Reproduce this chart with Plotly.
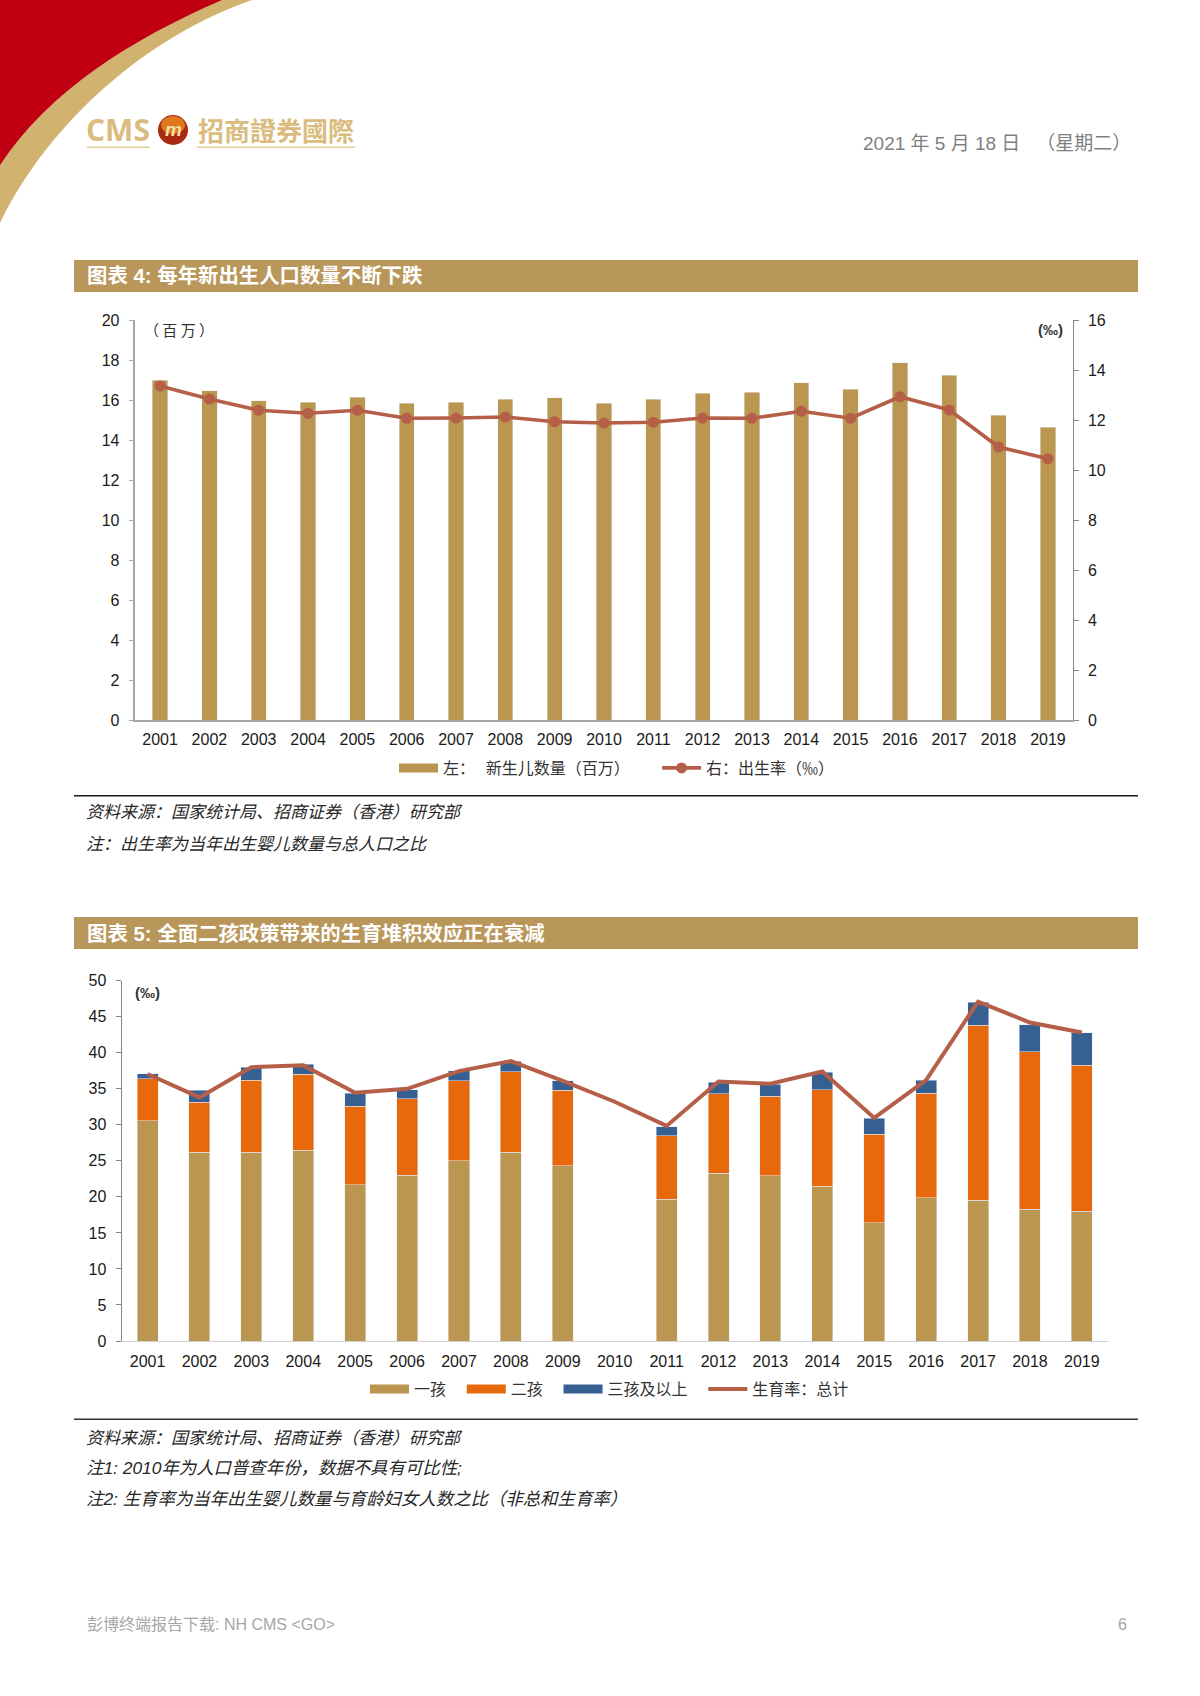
import plotly.graph_objects as go

# =========================
# DATA
# =========================
years = ["2001", "2002", "2003", "2004", "2005", "2006", "2007", "2008", "2009", "2010",
         "2011", "2012", "2013", "2014", "2015", "2016", "2017", "2018", "2019"]

newborns = [17.0, 16.47, 15.97, 15.9, 16.15, 15.84, 15.9, 16.05, 16.12, 15.85,
            16.03, 16.35, 16.4, 16.87, 16.55, 17.86, 17.23, 15.23, 14.65]
birth_rate = [13.36, 12.84, 12.39, 12.27, 12.39, 12.07, 12.08, 12.12, 11.93, 11.88,
              11.91, 12.08, 12.07, 12.35, 12.07, 12.93, 12.4, 10.92, 10.45]

first_child = [30.6, 26.2, 26.2, 26.5, 21.65, 23.0, 25.0, 26.2, 24.3, None,
               19.7, 23.3, 22.9, 21.5, 16.4, 19.9, 19.5, 18.3, 18.0]
second_child = [5.8, 6.9, 10.0, 10.5, 10.95, 10.6, 11.1, 11.2, 10.5, None,
                8.75, 11.0, 11.1, 13.4, 12.3, 14.5, 24.35, 21.85, 20.25]
third_child = [0.7, 1.7, 1.8, 1.4, 1.8, 1.3, 1.4, 1.45, 1.3, None,
               1.3, 1.6, 1.65, 2.4, 2.2, 1.8, 3.15, 3.75, 4.55]
fertility_rate = [37.05, 33.8, 38.0, 38.25, 34.45, 35.0, 37.45, 38.85, 36.1, 33.2,
                  29.85, 36.0, 35.7, 37.4, 30.95, 36.2, 47.1, 44.2, 42.8]

left_ticks = [0, 2, 4, 6, 8, 10, 12, 14, 16, 18, 20]
right_ticks = [0, 2, 4, 6, 8, 10, 12, 14, 16]
rate_ticks = [0, 5, 10, 15, 20, 25, 30, 35, 40, 45, 50]

# =========================
# PAGE HELPERS
# =========================
W, H = 1200, 1696
GOLD = "#BA9650"
ORANGE = "#E8690B"
BLUE = "#366092"
RUST = "#B65F48"
LOGO = "#D9BC7E"
SANS = "Liberation Sans, Noto Sans CJK SC, sans-serif"
CJK = "Noto Sans CJK SC, sans-serif"
NBSP = "\u00a0"
GAP = NBSP * 3  # extra room between legend entries


def px(x):
    return x / W


def py(y):
    return 1 - y / H


def text(x, y, s, size, color="#262626", anchor="left", family=CJK):
    return dict(xref="paper", yref="paper", x=px(x), y=py(y), text=s, showarrow=False,
                xanchor=anchor, yanchor="middle", font=dict(size=size, color=color, family=family))


def rect(x0, y0, x1, y1, color):
    return dict(type="rect", xref="paper", yref="paper", x0=px(x0), x1=px(x1), y0=py(y0), y1=py(y1),
                fillcolor=color, line_width=0, layer="below")


def curve(pts, color):
    # pts = start, then cubic control points, closed through the top-left corner
    (x0, y0), (x1, y1), (x2, y2), (x3, y3) = pts
    path = (f"M {px(x0)} {py(y0)} C {px(x1)} {py(y1)} {px(x2)} {py(y2)} {px(x3)} {py(y3)} "
            f"L {px(0)} {py(0)} Z")
    return dict(type="path", xref="paper", yref="paper", path=path, fillcolor=color, line_width=0, layer="below")


def circle(x0, y0, x1, y1, color):
    return dict(type="circle", xref="paper", yref="paper", x0=px(x0), x1=px(x1), y0=py(y0), y1=py(y1),
                fillcolor=color, line_width=0, layer="below")


fig = go.Figure()

# =========================
# CHART 4
# =========================
fig.add_trace(go.Bar(x=years, y=newborns, marker_color=GOLD, width=0.31,
                     xaxis="x", yaxis="y", showlegend=False))
fig.add_trace(go.Scatter(x=[None], y=[None], mode="lines",
                         name="左：" + NBSP * 3 + "新生儿数量（百万）" + "\u3000" + NBSP * 4,
                         line=dict(color=GOLD, width=9), xaxis="x", yaxis="y", legend="legend"))
fig.add_trace(go.Scatter(x=years, y=birth_rate, mode="lines+markers", name="右：出生率（‰）",
                         line=dict(color=RUST, width=3.6), marker=dict(color=RUST, size=11),
                         xaxis="x", yaxis="y2", legend="legend"))

# =========================
# CHART 5
# =========================
for vals, color, label in [(first_child, GOLD, "一孩" + GAP),
                           (second_child, ORANGE, "二孩" + GAP),
                           (third_child, BLUE, "三孩及以上" + GAP)]:
    fig.add_trace(go.Bar(x=years, y=vals, marker_color=color, width=0.405,
                         xaxis="x2", yaxis="y3", showlegend=False))
    fig.add_trace(go.Scatter(x=[None], y=[None], mode="lines", name=label,
                             line=dict(color=color, width=9), xaxis="x2", yaxis="y3", legend="legend2"))
fig.add_trace(go.Scatter(x=years, y=fertility_rate, mode="lines", name="生育率：总计",
                         line=dict(color=RUST, width=4), xaxis="x2", yaxis="y3", legend="legend2"))

# =========================
# PAGE DECORATION
# =========================
shapes = [
    curve([(252, 0), (150, 35), (50, 120), (0, 223)], "#D2B26F"),
    curve([(222, 0), (130, 40), (50, 90), (0, 165)], "#C00012"),
    rect(87, 146.5, 150, 148, "#E3CB98"),
    rect(197, 146.5, 355, 148, "#E3CB98"),
    circle(158, 115, 188, 145, "#A92A10"),
    circle(161, 116, 185, 134, "#E0781C"),
    rect(74, 260, 1138, 292, "#B9975B"),
    rect(74, 795, 1138, 796.6, "#1A1A1A"),
    rect(74, 917, 1138, 949, "#B9975B"),
    rect(74, 1418.5, 1138, 1420, "#333333"),
]

notes = [
    text(861, 144, "2021 年 5 月 18 日 " + NBSP * 2 + "（星期二）", 19, "#7F7F7F", family=SANS),
    text(84, 130, "<b>CMS</b>", 30, LOGO, family="Open Sans, Liberation Sans, sans-serif"),
    text(173, 130, "<b><i>m</i></b>", 19, "#F3DFA8", "center", SANS),
    text(196, 130, "<b>招商證券國際</b>", 26, LOGO, family="Noto Sans CJK TC, sans-serif"),
    text(85, 276, "<b>图表 4: 每年新出生人口数量不断下跌</b>", 20.4, "white", family=SANS),
    text(142, 329, "（" + NBSP + "百" + NBSP + "万" + NBSP + "）", 15, "#333333"),
    text(1036, 330, "<b>(‰)</b>", 15, "#333333", family=SANS),
    text(84, 810, "<i>资料来源：国家统计局、招商证券（香港）研究部</i>", 17),
    text(84, 842, "<i>注：出生率为当年出生婴儿数量与总人口之比</i>", 17),
    text(85, 933, "<b>图表 5: 全面二孩政策带来的生育堆积效应正在衰减</b>", 20.4, "white", family=SANS),
    text(133, 993, "<b>(‰)</b>", 15, "#333333", family=SANS),
    text(84, 1436, "<i>资料来源：国家统计局、招商证券（香港）研究部</i>", 17),
    text(84, 1468, "<i>注1: 2010年为人口普查年份，数据不具有可比性;</i>", 17.4, family=SANS),
    text(84, 1499, "<i>注2: 生育率为当年出生婴儿数量与育龄妇女人数之比（非总和生育率）</i>", 17.4, family=SANS),
    text(85, 1624, "彭博终端报告下载: NH CMS &lt;GO&gt;", 16, "#A6A6A6", family=SANS),
    text(1122, 1624, "6", 16, "#A6A6A6", "center", SANS),
]

# =========================
# LAYOUT
# =========================
tick_font = dict(size=16, color="#1A1A1A", family=SANS)
cat_axis = dict(type="category", categoryorder="array", categoryarray=years, range=[-0.5, 18.5],
                showgrid=False, ticks="", tickfont=tick_font, showline=True,
                zeroline=False, automargin=False)
val_axis = dict(showgrid=False, zeroline=False, showline=True, ticks="outside", ticklen=5,
                tickfont=tick_font, ticklabelstandoff=6, automargin=False)

fig.update_layout(
    width=W,
    height=H,
    margin=dict(l=0, r=0, t=0, b=0),
    paper_bgcolor="white",
    plot_bgcolor="white",
    barmode="stack",
    font=dict(family=SANS),
    xaxis=dict(cat_axis, domain=[px(135.4), px(1072.6)], anchor="y", linecolor="#A6A6A6", linewidth=1.5,
               ticklabelstandoff=4),
    yaxis=dict(val_axis, domain=[py(720), py(320)], range=[0, 20], tickvals=left_ticks, anchor="x",
               linecolor="#A6A6A6", linewidth=1.5, tickcolor="#A6A6A6"),
    yaxis2=dict(val_axis, domain=[py(720), py(320)], range=[0, 16], tickvals=right_ticks, anchor="x",
                overlaying="y", side="right", linecolor="#868686", linewidth=1.2, tickcolor="#868686"),
    xaxis2=dict(cat_axis, domain=[px(121.6), px(1107.8)], anchor="y3", linecolor="#D0D0D0", linewidth=1.2,
                ticklabelstandoff=6),
    yaxis3=dict(val_axis, domain=[py(1341), py(980.7)], range=[0, 50], tickvals=rate_ticks, anchor="x2",
                linecolor="#868686", linewidth=1.2, tickcolor="#868686"),
    legend=dict(orientation="h", x=px(394), y=py(768), xanchor="left", yanchor="middle",
                itemwidth=39, font=dict(size=16, color="#333333", family=CJK),
                bgcolor="rgba(0,0,0,0)", traceorder="normal"),
    legend2=dict(orientation="h", x=px(365), y=py(1389), xanchor="left", yanchor="middle",
                 itemwidth=39, font=dict(size=16, color="#333333", family=CJK),
                 bgcolor="rgba(0,0,0,0)", traceorder="normal"),
    shapes=shapes,
    annotations=notes,
)

fig.write_html("out.html", config=dict(displayModeBar=False),
               post_script="document.body.style.margin='0';document.body.style.overflow='hidden';")
